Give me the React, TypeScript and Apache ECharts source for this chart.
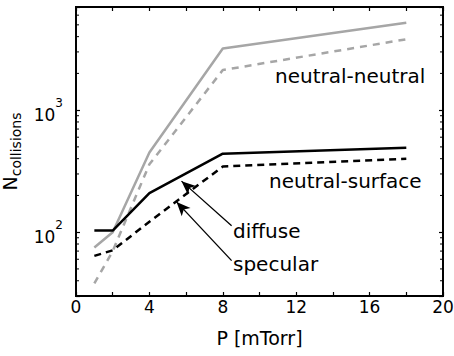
import React, { useEffect, useRef } from "react";
import * as echarts from "echarts";

const pressure = [1, 2, 4, 8, 18];
const nnDiffuse = [75, 100, 450, 3200, 5200];
const nnSpecular = [38, 70, 360, 2130, 3810];
const nsDiffuse = [103, 103, 209, 440, 493];
const nsSpecular = [64, 71, 122, 345, 400];

const xTicks = [0, 4, 8, 12, 16, 20];
const yMajor = [100, 1000];
const yMinor = [40, 50, 60, 70, 80, 90, 200, 300, 400, 500, 600, 700, 800, 900, 2000, 3000, 4000, 5000, 6000, 7000];

const diffuseArrow = [[8.48, 113], [5.75, 262]];
const specularArrow = [[8.48, 58.5], [5.48, 177]];

const FONT = '"DejaVu Sans", sans-serif';

const pairs = (ys: number[]) => pressure.map((x, i) => [x, ys[i]]);

export default function App() {
  const ref = useRef<HTMLDivElement>(null);
  useEffect(() => {
    if (!ref.current) return;
    const chart = echarts.init(ref.current, null, { renderer: "svg" });
    const gray = "#a6a6a6";
    const axisCommon = {
      axisLine: { show: true, onZero: false, lineStyle: { color: "#000", width: 1.8 } },
      axisTick: { show: true, inside: true, length: 4, lineStyle: { color: "#000", width: 1.2 } },
      splitLine: { show: false },
    };
    const option: any = {
      animation: false,
      backgroundColor: "#fff",
      grid: {
        left: 76,
        right: 11,
        top: 7,
        bottom: 60,
        containLabel: false,
        outerBoundsMode: "none",
        show: true,
        borderColor: "#000",
        borderWidth: 1.8,
        backgroundColor: "transparent",
      },
      xAxis: [
        {
          type: "value",
          min: 0,
          max: 20,
          interval: 2,
          ...axisCommon,
          axisLabel: {
            color: "#000",
            fontFamily: FONT,
            fontSize: 17,
            margin: 2,
            formatter: (v: number) => (xTicks.includes(v) ? String(v) : ""),
          },
          name: "P [mTorr]",
          nameLocation: "middle",
          nameGap: 32,
          nameTextStyle: { color: "#000", fontFamily: FONT, fontSize: 19 },
        },
        {
          type: "value",
          position: "top",
          min: 0,
          max: 20,
          interval: 2,
          ...axisCommon,
          axisLabel: { show: false },
        },
      ],
      yAxis: [
        {
          type: "log",
          logBase: 10,
          min: 30,
          max: 7000,
          ...axisCommon,
          axisLabel: {
            color: "#000",
            fontFamily: FONT,
            margin: 13,
            formatter: (v: number) => {
              const l = Math.log10(v);
              const r = Math.round(l);
              if (Math.abs(l - r) < 1e-6 && yMajor.includes(Math.pow(10, r))) return `{b|10}{s|${r}}`;
              return "";
            },
            rich: {
              b: { fontFamily: FONT, fontSize: 17, lineHeight: 26, verticalAlign: "bottom", color: "#000" },
              s: { fontFamily: FONT, fontSize: 12, lineHeight: 12, verticalAlign: "top", color: "#000" },
            },
          },
          name: "{n|N}{s|collisions}",
          nameLocation: "middle",
          nameRotate: 90,
          nameGap: 34,
          nameTextStyle: {
            rich: {
              n: { fontFamily: FONT, fontSize: 19, lineHeight: 22, verticalAlign: "top", color: "#000" },
              s: { fontFamily: FONT, fontSize: 14, lineHeight: 11, verticalAlign: "bottom", color: "#000" },
            },
          },
        },
        {
          type: "log",
          logBase: 10,
          position: "right",
          min: 30,
          max: 7000,
          ...axisCommon,
          axisLabel: { show: false },
        },
      ],
      graphic: [
        { type: "text", x: 275, y: 76, style: { text: "neutral-neutral", font: `20px ${FONT}`, fill: "#000", verticalAlign: "middle" } },
        { type: "text", x: 269, y: 181, style: { text: "neutral-surface", font: `20px ${FONT}`, fill: "#000", verticalAlign: "middle" } },
        { type: "text", x: 233, y: 231, style: { text: "diffuse", font: `20px ${FONT}`, fill: "#000", verticalAlign: "middle" } },
        { type: "text", x: 233, y: 264, style: { text: "specular", font: `20px ${FONT}`, fill: "#000", verticalAlign: "middle" } },
      ],
      series: [
        {
          type: "line",
          data: pairs(nnDiffuse),
          symbol: "none",
          lineStyle: { color: gray, width: 2.5, type: "solid" },
        },
        {
          type: "line",
          data: pairs(nnSpecular),
          symbol: "none",
          lineStyle: { color: gray, width: 2.5, type: [7, 6] },
        },
        {
          type: "line",
          data: pairs(nsDiffuse),
          symbol: "none",
          lineStyle: { color: "#000", width: 2.5, type: "solid" },
          markLine: {
            silent: true,
            symbol: ["none", "arrow"],
            symbolSize: [9, 14],
            label: { show: false },
            lineStyle: { color: "#000", width: 1.3, type: "solid" },
            data: [
              [{ coord: diffuseArrow[0] }, { coord: diffuseArrow[1] }],
              [{ coord: specularArrow[0] }, { coord: specularArrow[1] }],
            ],
          },
        },
        {
          type: "line",
          data: pairs(nsSpecular),
          symbol: "none",
          lineStyle: { color: "#000", width: 2.5, type: [7, 5] },
        },
        {
          type: "custom",
          data: yMinor.map((v) => [0, v]),
          encode: { x: 0, y: 1 },
          silent: true,
          clip: false,
          renderItem: (params: any, api: any) => {
            const v = api.value(1);
            const pL = api.coord([0, v]);
            const pR = api.coord([20, v]);
            return {
              type: "group",
              children: [
                { type: "line", shape: { x1: pL[0], y1: pL[1], x2: pL[0] + 3, y2: pL[1] }, style: { stroke: "#000", lineWidth: 1 } },
                { type: "line", shape: { x1: pR[0], y1: pR[1], x2: pR[0] - 3, y2: pR[1] }, style: { stroke: "#000", lineWidth: 1 } },
              ],
            };
          },
        },
      ],
    };
    chart.setOption(option);
    return () => chart.dispose();
  }, []);
  return <div ref={ref} style={{ position: "fixed", left: 0, top: 0, width: 454, height: 356 }} />;
}
